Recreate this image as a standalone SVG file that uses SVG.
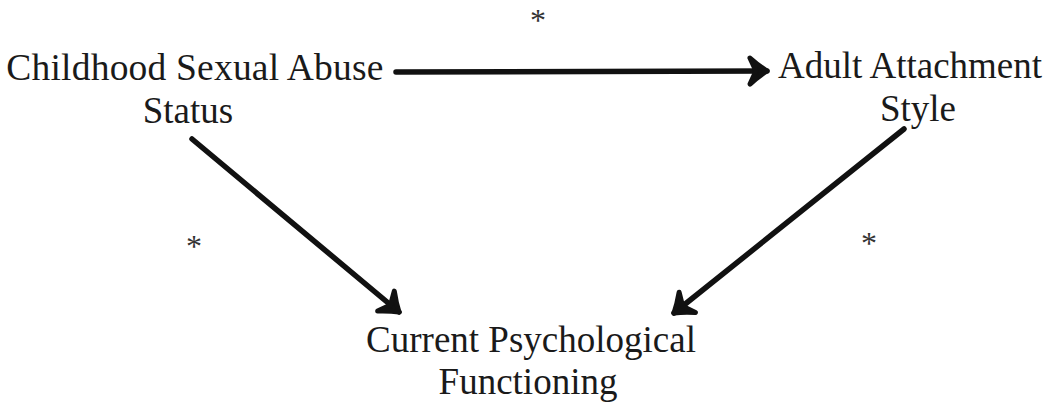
<svg xmlns="http://www.w3.org/2000/svg" width="1059" height="402" viewBox="0 0 1059 402">
<style>
.lbl{font-family:"Liberation Serif","Times New Roman",serif;font-size:37px;fill:#1a1a1a;text-anchor:middle}
.wide{font-size:37.5px;letter-spacing:0.2px}
.ast{font-family:"Liberation Serif","Times New Roman",serif;font-size:32px;fill:#333;text-anchor:middle}
.edge{stroke:#111;stroke-width:5.5;fill:none;stroke-linecap:round}
</style>
<defs>
<marker id="ah" viewBox="-24 -16 28 32" markerWidth="28" markerHeight="32" refX="0" refY="0" markerUnits="userSpaceOnUse" orient="auto">
<path d="M-17,-13 Q-8,-5 0,0 Q-8,5 -17,13 L-11,0 Z" fill="#111" stroke="#111" stroke-width="5" stroke-linejoin="round"/>
</marker>
</defs>
<rect width="1059" height="402" fill="#fff"/>
<g id="node-csa">
<text class="lbl wide" x="195" y="80">Childhood Sexual Abuse</text>
<text class="lbl" x="188" y="123">Status</text>
</g>
<g id="node-aas">
<text class="lbl" x="910" y="78">Adult Attachment</text>
<text class="lbl" x="918" y="121">Style</text>
</g>
<g id="node-cpf">
<text class="lbl" x="531" y="352">Current Psychological</text>
<text class="lbl" x="528" y="394">Functioning</text>
</g>
<g id="connectors">
<path class="edge" d="M396,72 L767,71" marker-end="url(#ah)"/>
<path class="edge" d="M192,139 L399,312" marker-end="url(#ah)"/>
<path class="edge" d="M904,129 L674,313" marker-end="url(#ah)"/>
</g>
<g id="labels">
<text class="ast" x="538" y="31">*</text>
<text class="ast" x="194" y="257">*</text>
<text class="ast" x="869" y="254">*</text>
</g>
</svg>
